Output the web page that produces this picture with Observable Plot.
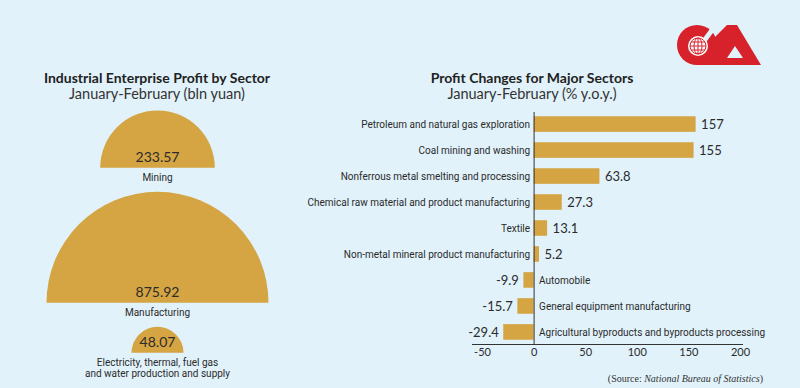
<!DOCTYPE html>
<html><head><meta charset="utf-8">
<script src="https://cdn.jsdelivr.net/npm/d3@7"></script>
<script src="https://cdn.jsdelivr.net/npm/@observablehq/plot@0.6"></script>
<style>
html,body{margin:0;padding:0;}
body{width:800px;height:388px;background:#e1f2fa;overflow:hidden;font-family:Lato,"Open Sans",sans-serif;}
#root{position:relative;width:800px;height:388px;}
.t{position:absolute;text-align:center;color:#222;white-space:nowrap;line-height:1;}
.bold{font-weight:700;font-size:14px;}
.sub{font-size:14.5px;color:#333;}
#left{position:absolute;left:0;top:100px;}
#right{position:absolute;left:300px;top:100px;}
#src{position:absolute;right:37px;top:373px;font-family:"Liberation Serif","DejaVu Serif",serif;font-size:10px;color:#333;}
#logo{position:absolute;left:660px;top:0;}
</style></head>
<body><div id="root">
<div class="t bold" style="left:0;width:314px;top:71px;">Industrial Enterprise Profit by Sector</div>
<div class="t sub" style="left:0;width:314px;top:87px;">January-February (bln yuan)</div>
<div class="t bold" style="left:382px;width:300px;top:71px;">Profit Changes for Major Sectors</div>
<div class="t sub" style="left:382px;width:300px;top:87px;">January-February (% y.o.y.)</div>
<div id="left"></div>
<div id="right"></div>
<div id="src">(Source: <i>National Bureau of Statistics</i>)</div>
<svg id="logo" width="140" height="80" viewBox="660 0 140 80">
  <circle cx="697" cy="45" r="20" fill="#d7222c"/>
  <polygon fill="#d7222c" points="697,65 697,55 727,25 737,25 761,65"/>
  <polygon fill="#e1f2fa" points="715,22 721,22 704,45 698,45"/>
  <polygon fill="#e1f2fa" points="727,58 743,58 735,46"/>
  <circle cx="698" cy="46" r="10" fill="#fff"/>
  <g stroke="#d7222c" stroke-width="1" fill="none">
    <circle cx="698" cy="46" r="8"/>
    <ellipse cx="698" cy="46" rx="4" ry="8"/>
    <line x1="698" y1="38" x2="698" y2="54"/>
    <line x1="690" y1="46" x2="706" y2="46"/>
    <line x1="691" y1="42" x2="705" y2="42"/>
    <line x1="691" y1="50" x2="705" y2="50"/>
  </g>
</svg>
</div>
<script>
// ---- data ----
const sectors = ["Mining", "Manufacturing", "Electricity, thermal, fuel gas\nand water production and supply"];
const profits = [233.57, 875.92, 48.07];
const profitLabels = ["233.57", "875.92", "48.07"];

const changeSectors = [
  "Petroleum and natural gas exploration",
  "Coal mining and washing",
  "Nonferrous metal smelting and processing",
  "Chemical raw material and product manufacturing",
  "Textile",
  "Non-metal mineral product manufacturing",
  "Automobile",
  "General equipment manufacturing",
  "Agricultural byproducts and byproducts processing"
];
const changes = [157, 155, 63.8, 27.3, 13.1, 5.2, -9.9, -15.7, -29.4];
const changeLabels = ["157", "155", "63.8", "27.3", "13.1", "5.2", "-9.9", "-15.7", "-29.4"];
const xTicks = [-50, 0, 50, 100, 150, 200];

// ---- styles ----
const BAR = "#d5a443";
const INK = "#2b2b2b";
const FONT = "Lato, 'Open Sans', sans-serif";
const NARROW = "Roboto, 'Noto Sans', sans-serif";

// ---- left: semicircles, area proportional to value ----
const maxR = 111, gap = 24, topPad = 10;
const rScale = d3.scaleSqrt().domain([0, d3.max(profits)]).range([0, maxR]);
let acc = topPad;
const leftRows = profits.map((v, i) => {
  const r = rScale(v);
  acc += (i > 0 ? gap : 0) + r;
  return {sector: sectors[i], value: v, label: profitLabels[i], base: acc, group: "all"};
});
const semicircle = {
  draw(ctx, size) {
    const r = Math.sqrt(size / Math.PI);
    ctx.moveTo(r, 0);
    ctx.arc(0, 0, r, 0, Math.PI, true);
    ctx.closePath();
  }
};
const left = Plot.plot({
  width: 314, height: 288, margin: 0,
  style: {background: "transparent", fontFamily: FONT, overflow: "visible"},
  x: {type: "point", domain: ["all"], axis: null},
  y: {type: "identity", axis: null},
  r: {type: "sqrt", domain: [0, d3.max(profits)], range: [0, maxR]},
  marks: [
    Plot.dot(leftRows, {x: "group", y: "base", r: "value", fill: BAR, symbol: semicircle}),
    Plot.text(leftRows, {x: "group", y: "base", text: "label", dy: -10, fontSize: 14, fill: INK}),
    Plot.text(leftRows, {x: "group", y: "base", text: "sector", dy: 5, lineAnchor: "top", lineHeight: 1.1, fontSize: 10, fill: INK, fontFamily: NARROW})
  ]
});
document.getElementById("left").appendChild(left);

// ---- right: diverging bars ----
const rows = changeSectors.map((s, i) => ({sector: s, value: changes[i], label: changeLabels[i], zero: 0}));
const pos = rows.filter(d => d.value >= 0), neg = rows.filter(d => d.value < 0);
const right = Plot.plot({
  width: 480, height: 270,
  marginLeft: 172, marginRight: 38, marginTop: 12, marginBottom: 26,
  insetLeft: 10, insetRight: 2,
  style: {background: "transparent", fontFamily: FONT, overflow: "visible", color: INK},
  x: {domain: [-50, 200], ticks: xTicks, tickFormat: d => String(d), label: null, tickSize: 0, tickPadding: 4},
  y: {domain: changeSectors, paddingInner: 0.4, paddingOuter: 0.164, round: false, axis: null},
  marks: [
    Plot.barX(rows, {x: "value", y: "sector", fill: BAR}),
    Plot.ruleX([0], {stroke: "#333", strokeWidth: 1}),
    Plot.frame({anchor: "bottom", stroke: "#333"}),
    Plot.text(pos, {x: "zero", y: "sector", text: "sector", textAnchor: "end", dx: -4, fontSize: 10, fill: INK, fontFamily: NARROW}),
    Plot.text(neg, {x: "zero", y: "sector", text: "sector", textAnchor: "start", dx: 5, fontSize: 10, fill: INK, fontFamily: NARROW}),
    Plot.text(pos, {x: "value", y: "sector", text: "label", textAnchor: "start", dx: 5, fontSize: 13, fill: INK}),
    Plot.text(neg, {x: "value", y: "sector", text: "label", textAnchor: "end", dx: -5, fontSize: 13, fill: INK})
  ]
});
right.querySelectorAll("g[aria-label='x-axis tick label'] text, g[aria-label='x-axis'] text").forEach(t => t.setAttribute("font-size", "11"));
document.getElementById("right").appendChild(right);
</script>
</body></html>
